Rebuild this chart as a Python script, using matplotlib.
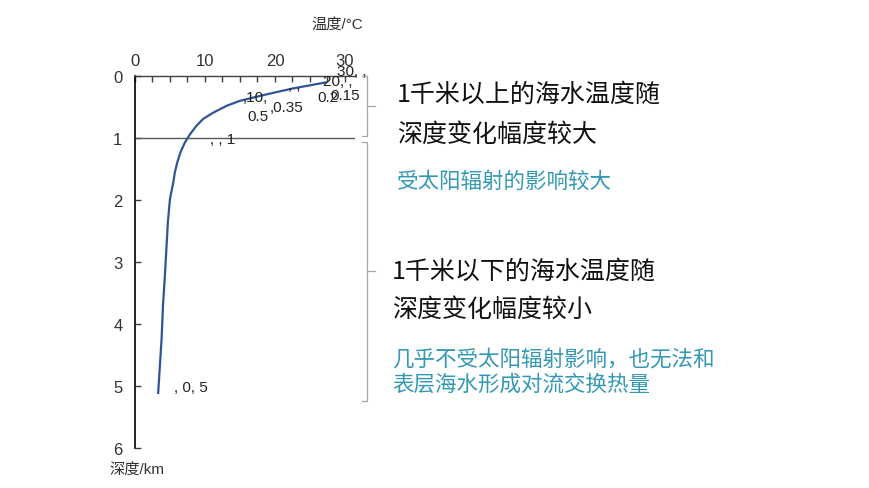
import matplotlib
matplotlib.use("Agg")
import matplotlib.pyplot as plt
from matplotlib.lines import Line2D
import numpy as np

plt.rcParams['font.family'] = ['Liberation Sans', 'Noto Sans CJK SC', 'DejaVu Sans']

# ---- data ----
temperature = [27.4, 25.0, 22.6, 20.2, 17.9, 15.0, 13.1, 11.2, 9.76, 8.8, 7.86, 7.14, 6.5, 6.05,
               5.7, 5.48, 5.0, 4.7, 4.3, 4.0, 3.8, 3.3]
depth       = [0.10, 0.15, 0.20, 0.26, 0.32, 0.40, 0.48, 0.59, 0.69, 0.80, 0.94, 1.07, 1.23, 1.39,
               1.55, 1.71, 1.98, 2.35, 3.16, 3.70, 4.24, 5.13]
x_ticks = [0, 10, 20, 30]
y_ticks = [0, 1, 2, 3, 4, 5, 6]
point_labels = ["30, ,", "20, ,", "0.15", "0.2", ",10,", ", ,", ",0.35", "0.5", ", , 1", ", 0, 5"]
label_x = [28.9, 26.9, 27.9, 26.0, 15.4, 21.9, 19.3, 16.0, 10.7, 5.6]
label_y = [-0.08, 0.08, 0.31, 0.34, 0.34, 0.15, 0.50, 0.65, 1.02, 5.02]
divider_depth = 1

W, H = 870, 489
fig = plt.figure(figsize=(W/100, H/100), dpi=100)
ax = fig.add_axes([135/W, 1-449/H, 220/W, 372/H])

ax.plot(temperature, depth, color='#2F5597', lw=1.6, solid_capstyle='butt', solid_joinstyle='round')
ax.axhline(divider_depth, color='#595959', lw=1.0)

ax.set_xlim(0, 31.43)
ax.set_ylim(6, 0)
ax.xaxis.tick_top()
ax.set_xticks(x_ticks)
ax.set_xticks(np.arange(0, 31, 2.5), minor=True)
ax.set_yticks(y_ticks)
ax.tick_params(axis='x', which='both', direction='in', length=4, width=1, color='#404040',
               labelsize=12, labelcolor='#333333', pad=6)
ax.tick_params(axis='y', which='both', direction='in', length=4, width=1, color='#404040',
               labelsize=12, labelcolor='#333333', pad=9)
for s in ['right', 'bottom']:
    ax.spines[s].set_visible(False)
ax.spines['left'].set_color('black')
ax.spines['left'].set_linewidth(1.2)
ax.spines['top'].set_color('#404040')
ax.spines['top'].set_linewidth(1.0)

for t, lx, ly in zip(point_labels, label_x, label_y):
    ax.text(lx, ly, t, fontsize=11, ha='left', va='center', color='#222222')

def fx(px):
    return px / W

def fy(py):
    return 1 - py / H

fig.text(fx(337), fy(25), "温度/°C", fontsize=11, ha='center', va='center', color='#333333')
fig.text(fx(137), fy(470), "深度/km", fontsize=11, ha='center', va='center', color='#333333')

# brackets
bc = '#A6A6A6'
def bracket(y0, y1, ym):
    pts = [(362, y0), (367, y0), (367, y1), (362, y1)]
    fig.add_artist(Line2D([fx(p[0]) for p in pts], [fy(p[1]) for p in pts], color=bc, lw=0.9))
    fig.add_artist(Line2D([fx(367), fx(375)], [fy(ym), fy(ym)], color=bc, lw=0.9))

bracket(77, 137, 107)
bracket(143, 402, 272)

cjk = ['Noto Sans CJK SC', 'DejaVu Sans']
teal = '#3399B3'
fig.text(fx(397), fy(95), "1千米以上的海水温度随", fontsize=18, family=cjk, va='center', ha='left', color='#111111')
fig.text(fx(397), fy(135), "深度变化幅度较大", fontsize=18, family=cjk, va='center', ha='left', color='#111111')
fig.text(fx(397), fy(182), "受太阳辐射的影响较大", fontsize=15.5, family=cjk, va='center', ha='left', color=teal)
fig.text(fx(392), fy(272), "1千米以下的海水温度随", fontsize=18, family=cjk, va='center', ha='left', color='#111111')
fig.text(fx(392), fy(310), "深度变化幅度较小", fontsize=18, family=cjk, va='center', ha='left', color='#111111')
fig.text(fx(392), fy(359), "几乎不受太阳辐射影响，也无法和", fontsize=15.5, family=cjk, va='center', ha='left', color=teal)
fig.text(fx(392), fy(385), "表层海水形成对流交换热量", fontsize=15.5, family=cjk, va='center', ha='left', color=teal)

fig.savefig("out.png", dpi=100, facecolor='white')
